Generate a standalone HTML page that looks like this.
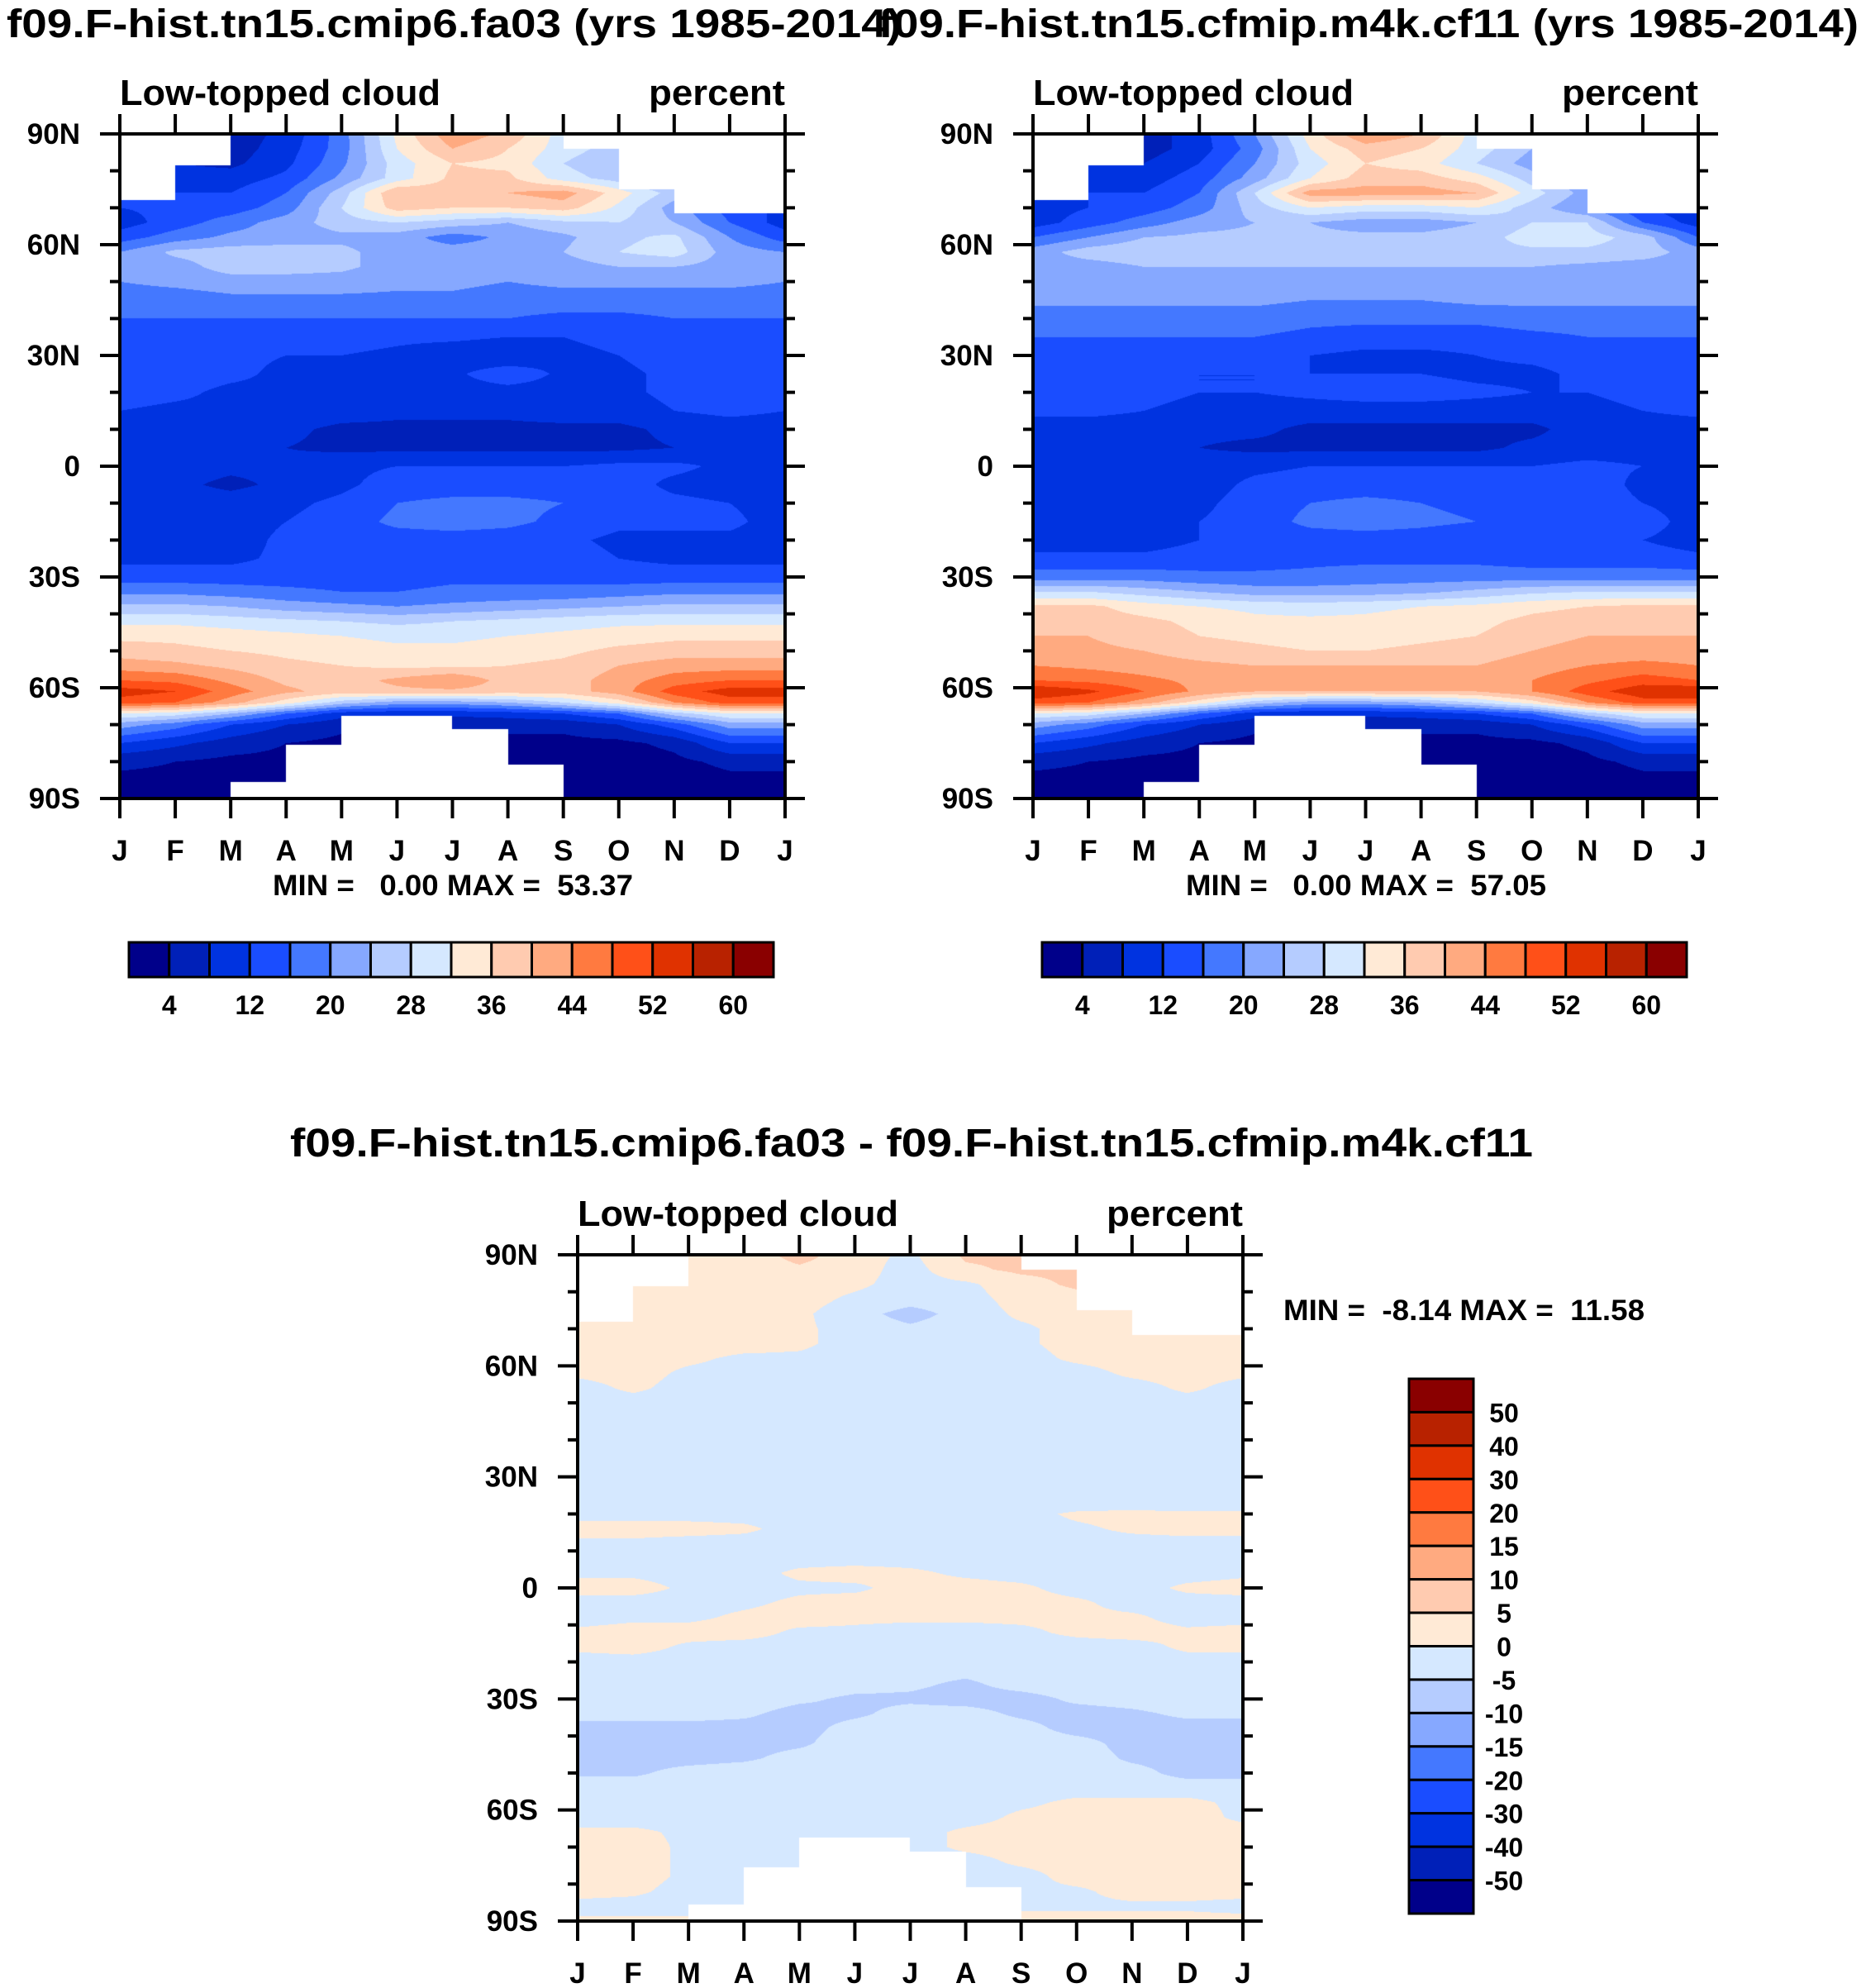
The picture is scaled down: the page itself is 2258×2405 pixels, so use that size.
<!DOCTYPE html>
<html><head><meta charset="utf-8">
<style>
html,body{margin:0;padding:0;background:#fff;}
#root{position:relative;width:2258px;height:2405px;overflow:hidden;font-family:"Liberation Sans",Arial,sans-serif;}
canvas{position:absolute;}
svg{position:absolute;left:0;top:0;}
text{font-family:"Liberation Sans",Arial,sans-serif;font-weight:bold;fill:#000;white-space:pre;}
</style></head>
<body>
<div id="root">
<canvas id="c1" width="805" height="804" style="left:145px;top:162px"></canvas>
<canvas id="c2" width="805" height="804" style="left:1250px;top:162px"></canvas>
<canvas id="c3" width="805" height="806" style="left:699px;top:1518px"></canvas>
<svg id="ov" width="2258" height="2405"></svg>
</div>
<script>
// ---------- data ----------
const months = ["J","F","M","A","M","J","J","A","S","O","N","D","J"];
const latTicks = ["90N","60N","30N","0","30S","60S","90S"];
const levelsAbs = [4,8,12,16,20,24,28,32,36,40,44,48,52,56,60];
const levelsDiff = [-50,-40,-30,-20,-15,-10,-5,0,5,10,15,20,30,40,50];
const absBarLabels = ["4","12","20","28","36","44","52","60"];
const diffBarLabels = ["50","40","30","20","15","10","5","0","-5","-10","-15","-20","-30","-40","-50"];
const colors = ["#00008a","#0020b8","#0033e0","#1a4dff","#4478ff","#86a8ff","#b5ccff","#d5e8ff","#ffead6","#ffcbb0","#ffaa80","#ff7a40","#ff5018","#e03200","#b82200","#8a0000"];
// white (missing) regions per month interval: north limit and south limit in degrees
const maskNorth = [72,81.5,90,90,90,90,90,90,86,75,68.4,68.4];
const maskSouth = [-90,-90,-85.6,-75.4,-67.5,-67.5,-71.3,-80.8,-90,-90,-90,-90];

const latsAbs = [90,86,82,78,74,70,66,62,58,54,50,45,40,35,30,25,20,15,10,5,0,-5,-10,-15,-20,-25,-30,-34,-38,-42,-46,-50,-54,-58,-61,-64,-67,-70,-75,-80,-85,-90];
const fieldA = [
[6,6,6,9,18,33,43,39,30,26,22,14,6],
[6,6,6,10,18,32,40,36,30,26,22,14,6],
[8,8,7,11,19,30,36,35,28,24,20,14,8],
[10,10,10,13,21,30,37,37,30,26,20,14,10],
[12,12,12,16,26,40,38,40,42,34,26,16,12],
[12,13,14,18,28,38,36,36,38,31,22,14,11],
[10,14,18,22,26,28,26,24,27,28,24,16,10],
[14,18,21,22,23,22,18,21,23,27,29,20,14],
[20,25,26,26,25,22,22,22,24,28,30,22,20],
[22,22,26,26,25,22,22,22,22,24,24,22,22],
[20,21,22,22,22,21,21,20,21,21,21,21,20],
[18,18,19,19,19,19,19,18,18,18,18,18,18],
[16,16,16,16,16,16,16,16,15,15,16,16,16],
[14,14,14,14,14,13,13,12,12,13,14,14,14],
[14,14,13,12,12,11,9,8,11,12,14,14,14],
[14,14,13,11,11,11,11,15,11,11,13,14,14],
[14,13,11,11,11,10,10,10,10,11,13,14,14],
[12,11,11,11,10,9,9,9,10,10,12,13,12],
[10,10,10,9,7,7,7,7,7,7,9,10,10],
[10,10,10,8,7,7,7,7,7,7,8,10,10],
[10,10,9,9,11,12,12,12,12,13,13,11,10],
[10,9,7,9,11,14,14,14,14,14,11,10,10],
[10,10,10,11,13,16,17,17,16,14,13,12,10],
[10,10,10,12,14,17,18,17,15,13,13,13,10],
[10,10,10,13,14,14,14,14,13,11,11,11,10],
[11,11,11,13,14,14,14,14,14,12,11,11,11],
[14,14,14,14,14,14,15,15,15,14,14,14,14],
[19,19,18,17,16,16,17,17,17,18,19,19,19],
[25,25,24,22,21,20,21,22,23,24,25,25,25],
[31,31,30,29,28,27,28,29,30,31,31,31,31],
[35,35,34,33,32,31,31,32,33,34,35,35,35],
[38,37,36,35,34,33,33,34,35,37,38,38,38],
[42,41,39,37,36,35,35,36,37,40,42,42,42],
[48,47,43,39,38,41,44,38,38,42,46,48,48],
[54,52,46,41,38,39,39,38,38,42,50,54,54],
[50,48,42,34,26,22,22,24,28,34,44,50,50],
[32,30,24,16,10,9,9,10,12,16,26,32,32],
[22,18,12,8,5,5,5,5,5,8,14,22,22],
[12,9,6,4,3,3,3,3,3,3,5,12,12],
[5,4,3,3,3,3,3,2,2,2,3,5,5],
[3,3,2,2,2,2,2,2,2,2,2,3,3],
[3,3,2,2,2,2,2,2,2,2,2,3,3]];
const fieldB = [
[6,6,6,10,20,34,44,40,30,24,20,14,6],
[6,6,6,10,18,32,38,36,30,24,18,12,6],
[8,8,8,12,20,30,36,34,28,22,18,12,8],
[10,10,10,14,22,32,38,38,34,26,20,14,10],
[10,12,12,16,28,42,42,42,40,30,22,14,10],
[10,12,14,18,26,32,30,30,32,26,20,12,9],
[10,14,18,22,24,24,22,22,24,28,28,16,10],
[16,20,24,25,25,25,25,25,26,30,30,26,16],
[22,26,27,27,27,26,26,26,27,27,27,26,22],
[22,22,24,24,24,24,24,24,24,24,23,22,22],
[22,22,22,22,22,21,21,22,22,22,22,22,22],
[21,21,21,21,21,20,20,20,21,21,21,21,21],
[18,18,18,18,18,17,17,17,17,18,18,18,18],
[16,16,16,16,16,15,14,14,14,15,16,16,16],
[14,14,14,14,13,12,11,11,12,13,14,14,14],
[14,14,13,12,12,12,12,12,11,11,13,14,14],
[14,14,13,12,12,13,14,14,13,12,12,13,14],
[13,13,12,11,10,10,10,10,10,10,11,12,13],
[10,10,10,9,9,7,7,7,7,7,10,10,10],
[10,10,10,8,7,7,7,7,7,9,10,10,10],
[10,10,10,10,11,12,12,12,12,12,13,12,10],
[10,10,10,10,13,14,14,14,13,13,14,11,10],
[10,9,10,11,14,16,17,16,15,15,14,12,10],
[10,10,10,12,14,17,18,17,16,14,14,14,10],
[10,10,10,12,14,14,14,14,13,12,12,12,10],
[13,13,13,14,14,15,15,15,15,14,14,14,13],
[18,18,18,17,17,17,18,18,18,18,18,18,18],
[28,28,26,24,22,22,22,23,25,27,28,28,28],
[37,37,34,32,31,30,31,32,33,35,36,37,37],
[39,38,37,35,33,33,33,34,35,37,38,39,39],
[40,40,38,36,35,34,34,35,36,38,40,40,40],
[42,41,40,38,37,36,36,37,38,40,42,42,42],
[44,43,42,41,40,40,40,40,40,42,44,45,44],
[48,47,45,43,42,42,42,42,42,44,47,50,48],
[56,53,48,43,40,40,40,40,40,44,50,55,56],
[50,48,42,34,26,22,22,24,28,34,44,50,50],
[32,30,24,16,10,9,9,10,12,16,26,32,32],
[22,18,12,8,5,5,5,5,5,8,14,22,22],
[12,9,6,4,3,3,3,3,3,3,5,12,12],
[5,4,3,3,3,3,3,2,2,2,3,5,5],
[3,3,2,2,2,2,2,2,2,2,2,3,3],
[3,3,2,2,2,2,2,2,2,2,2,3,3]];

const latsDiff = [90,86,82,78,74,70,66,62,58,54,50,22,20,16,12,8,4,0,-4,-8,-12,-16,-20,-26,-30,-34,-38,-42,-46,-50,-54,-58,-62,-66,-70,-74,-78,-82,-86,-90];
const fieldD = [
[2,2,2,2,7,2,-1,6,6,7,2,2,2],
[2,2,2,2,4,2,-2,4,6,6,2,2,2],
[2,2,2,2,2,1,-2,-1,3,6,2,2,2],
[2,2,2,2,2,-1,-3,-2,2,3,2,2,2],
[2,2,2,2,1,-3,-7,-3,1,2,2,2,2],
[2,2,2,2,1,-2,-4,-2,-1,2,2,2,2],
[2,2,2,2,1,-2,-2,-2,-1,2,2,2,2],
[2,2,1,-1,-1,-2,-2,-2,-2,1,2,2,2],
[1,2,-1,-2,-2,-2,-2,-2,-2,-2,1,2,1],
[-2,1,-2,-2,-2,-2,-2,-2,-2,-2,-2,1,-2],
[-2,-2,-2,-2,-2,-2,-2,-2,-2,-2,-2,-2,-2],
[-2,-2,-2,-2,-2,-2,-2,-2,-2,-2,-2,-2,-2],
[-2,-2,-2,-2,-2,-2,-2,-2,-2,1,2,1,1],
[2,2,2,1,-2,-2,-2,-2,-2,-1,1,2,2],
[-1,-1,-2,-2,-2,-2,-2,-2,-2,-2,-2,-2,-2],
[-2,-2,-2,-2,-2,-2,-2,-2,-2,-2,-2,-2,-2],
[-1,-1,-2,-2,1,2,1,-1,-2,-2,-2,-2,-1],
[2,2,-1,-2,-1,-1,2,2,1,-2,-2,1,2],
[-2,-2,-2,-1,1,2,2,2,2,1,-2,-2,-2],
[-2,-1,-1,1,2,1,1,1,1,1,1,-2,-2],
[1,2,2,2,-1,-1,-2,-2,-1,1,2,1,2],
[1,2,-1,-2,-2,-2,-2,-2,-2,-2,-2,1,1],
[-2,-2,-2,-2,-2,-2,-2,-2,-2,-2,-2,-2,-2],
[-2,-2,-2,-2,-2,-3,-4,-6,-3,-2,-2,-2,-2],
[-2,-2,-2,-2,-4,-6,-6,-7,-7,-4,-3,-2,-2],
[-3,-3,-3,-4,-7,-6,-3,-3,-6,-7,-6,-4,-4],
[-7,-7,-7,-7,-7,-3,-2,-2,-3,-7,-7,-7,-7],
[-7,-7,-7,-7,-6,-2,-2,-2,-2,-3,-7,-7,-7],
[-7,-7,-7,-6,-3,-2,-2,-2,-2,-2,-6,-7,-7],
[-6,-6,-3,-2,-2,-2,-2,-2,-2,-2,-3,-7,-7],
[-2,-2,-2,-2,-2,-2,-2,-2,-2,-2,-2,-2,-2],
[-2,-2,-2,-2,-2,-2,-2,-2,-1,1,1,1,-1],
[-2,-2,-2,-2,-2,-2,-2,-2,1,2,2,2,-1],
[1,1,-1,-2,-2,-2,-2,1,2,2,2,2,2],
[2,2,-1,-2,-2,-2,-2,1,2,2,2,2,2],
[2,2,-1,-2,-2,-2,-2,-2,1,2,2,2,2],
[2,2,-1,-2,-2,-2,-2,-2,-2,2,2,2,2],
[2,1,-2,-2,-2,-2,-2,-2,-1,-1,2,2,2],
[-2,-2,-2,-2,-2,-2,-2,-2,-1,-1,-1,-1,-2],
[1,1,1,-2,-2,-2,-2,-2,2,2,2,2,2]];

// ---------- rendering ----------
function levelIndex(v, levels){let k=0;while(k<levels.length && v>=levels[k])k++;return k;}
function hexRgb(h){return [parseInt(h.substr(1,2),16),parseInt(h.substr(3,2),16),parseInt(h.substr(5,2),16)];}
const rgb = colors.map(hexRgb);
function sample(field,lats,lat,m){
  let r=0;while(r<lats.length-2 && lat<lats[r+1])r++;
  const t=Math.min(1,Math.max(0,(lats[r]-lat)/(lats[r]-lats[r+1])));
  const c=Math.min(11,Math.floor(m)); const s=m-c;
  const a=field[r][c]*(1-s)+field[r][c+1]*s;
  const b=field[r+1][c]*(1-s)+field[r+1][c+1]*s;
  return a*(1-t)+b*t;
}
function drawField(id,field,lats,levels){
  const cv=document.getElementById(id),ctx=cv.getContext('2d');
  const W=cv.width,H=cv.height,img=ctx.createImageData(W,H),d=img.data;
  for(let y=0;y<H;y++){
    const lat=90-180*(y+0.5)/H;
    for(let x=0;x<W;x++){
      const m=12*(x+0.5)/W; const mi=Math.min(11,Math.floor(m));
      const p=(y*W+x)*4;
      if(lat>maskNorth[mi]||lat<maskSouth[mi]){d[p]=255;d[p+1]=255;d[p+2]=255;d[p+3]=255;continue;}
      const v=sample(field,lats,lat,m);
      const col=rgb[levelIndex(v,levels)];
      d[p]=col[0];d[p+1]=col[1];d[p+2]=col[2];d[p+3]=255;
    }
  }
  ctx.putImageData(img,0,0);
}
drawField('c1',fieldA,latsAbs,levelsAbs);
drawField('c2',fieldB,latsAbs,levelsAbs);
drawField('c3',fieldD,latsDiff,levelsDiff);

// ---------- axes ----------
const NS='http://www.w3.org/2000/svg';
const ov=document.getElementById('ov');
function el(tag,attrs,parent){const e=document.createElementNS(NS,tag);for(const k in attrs)e.setAttribute(k,attrs[k]);(parent||ov).appendChild(e);return e;}
function txt(str,x,y,size,anchor,len,parent){const t=el('text',{x:x,y:y,'font-size':size,'text-anchor':anchor||'start'},parent);t.setAttributeNS('http://www.w3.org/XML/1998/namespace','xml:space','preserve');if(len){t.setAttribute('textLength',len);t.setAttribute('lengthAdjust','spacingAndGlyphs');}t.textContent=str;return t;}

function axes(name,L,T,W,H){
  const g=el('g',{});
  
  
  const R=L+W,B=T+H,lw=4;
  const path=[];
  path.push(`M${L-24},${T}H${R+24}M${L-24},${B}H${R+24}M${L},${T-24}V${B+24}M${R},${T-24}V${B+24}`);
  for(let i=0;i<=12;i++){const x=L+W*i/12;path.push(`M${x},${T}V${T-24}M${x},${B}V${B+24}`);}
  for(let d=0;d<=180;d+=10){const y=T+H*d/180;const len=(d%30===0)?24:12;path.push(`M${L},${y}H${L-len}M${R},${y}H${R+len}`);}
  el('path',{d:path.join(''),stroke:'#000','stroke-width':lw,fill:'none'},g);
  latTicks.forEach((s,i)=>{const y=T+H*i/6;const t=txt(s,L-48,y+12,35,'end',null,g);
    });
  months.forEach((s,i)=>{const x=L+W*i/12;const t=txt(s,x,B+75,35,'middle',null,g);
    });
  const s1=txt('Low-topped cloud',L,T-35,44,'start',388,g);
  
  const s2=txt('percent',R,T-35,44,'end',165,g);
  
  return g;
}
axes('plot1',145,162,805,804);
axes('plot2',1250,162,805,804);
axes('plot3',699,1518,805,806);

function t0(str,x,y,size,anchor,len,name){const t=txt(str,x,y,size,anchor,len);return t;}
t0('f09.F-hist.tn15.cmip6.fa03 (yrs 1985-2014)',8,45,48,'start',1083,'title-fa03');
t0('f09.F-hist.tn15.cfmip.m4k.cf11 (yrs 1985-2014)',1063,45,48,'start',1186,'title-cf11');
t0('f09.F-hist.tn15.cmip6.fa03 - f09.F-hist.tn15.cfmip.m4k.cf11',351,1399,48,'start',1504,'title-difference');
t0('MIN =   0.00 MAX =  53.37',548,1083,35,'middle',436,'minmax-fa03');
t0('MIN =   0.00 MAX =  57.05',1653,1083,35,'middle',436,'minmax-cf11');
t0('MIN =  -8.14 MAX =  11.58',1553,1597,35,'start',437,'minmax-difference');

// horizontal colorbars
function hbar(name,L,T,W,H){
  const g=el('g',{});
  
  
  const bw=W/colors.length;
  colors.forEach((c,i)=>{const r=el('rect',{x:L+i*bw,y:T,width:bw,height:H,fill:c,stroke:'#000','stroke-width':3},g);
    });
  absBarLabels.forEach((s,i)=>{const t=txt(s,L+bw*(1+2*i),T+H+45,32,'middle',null,g);
    });
}
hbar('colorbar-fa03',156,1140,780,42);
hbar('colorbar-cf11',1261,1140,780,42);
// vertical colorbar
(function(){
  const g=el('g',{});
  
  
  const L=1705,T=1668,W=78,H=647,bh=H/colors.length;
  for(let i=0;i<colors.length;i++){const c=colors[colors.length-1-i];
    const r=el('rect',{x:L,y:T+i*bh,width:W,height:bh,fill:c,stroke:'#000','stroke-width':3},g);
    }
  diffBarLabels.forEach((s,i)=>{const t=txt(s,1820,T+bh*(i+1)+12,32,'middle',null,g);
    });
})();
</script>
</body></html>
